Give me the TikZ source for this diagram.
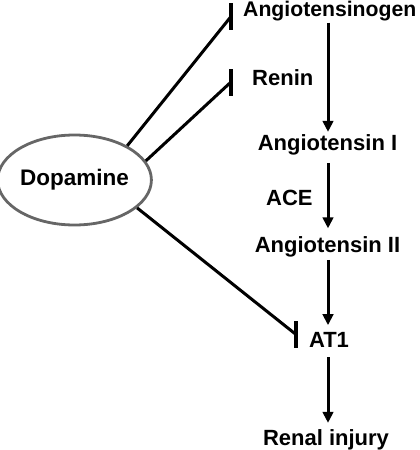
\documentclass[tikz,border=0pt]{standalone}
\usepackage{fontspec}
\setmainfont{Liberation Sans}
\usetikzlibrary{arrows.meta,shapes.geometric}
\begin{document}
\begin{tikzpicture}[x=1pt,y=-1pt,
  lbl/.style={font=\fontsize{22}{26}\selectfont\bfseries, inner sep=0pt},
  arr/.style={line width=3pt, -{Triangle[length=11pt,width=10.5pt]}},
  inh/.style={line width=3pt},
  barnode/.style={fill=black, inner sep=0pt, minimum width=3.2pt, minimum height=27pt},
  dopstyle/.style={ellipse, draw=black!60, line width=2.8pt, minimum width=145pt, minimum height=90pt, inner sep=0pt, font=\fontsize{22.5}{26}\selectfont\bfseries}]
\useasboundingbox (0,0) rectangle (420,450);
% nodes
\node[dopstyle] (dop) at (74.5,180) {Dopamine};
\node[lbl, anchor=base west, font=\fontsize{21.2}{25}\selectfont\bfseries] (agt) at (243,16.5) {Angiotensinogen};
\node[lbl, anchor=base west] (ren) at (252,85) {Renin};
\node[lbl, anchor=base] (ang1) at (327.5,150) {Angiotensin I};
\node[lbl, anchor=base west] (ace) at (266,205) {ACE};
\node[lbl, anchor=base] (ang2) at (327.5,252) {Angiotensin II};
\node[lbl, anchor=base] (at1) at (329,347) {AT1};
\node[lbl, anchor=base] (ri) at (326,445) {Renal injury};
% inhibition bars
\node[barnode] (b1) at (231,16.5) {};
\node[barnode] (b2) at (231,82) {};
\node[barnode] (b3) at (296,334.5) {};
% arrows
\draw[arr, shorten <=1.5pt, shorten >=2pt] (agt.south -| 328,0) -- (ang1.north -| 328,0);
\draw[arr, shorten <=8pt, shorten >=7.5pt] (ang1.south -| 328,0) -- (ang2.north -| 328,0);
\draw[arr, shorten <=3pt, shorten >=6.5pt] (ang2.south -| 328,0) -- (at1.north -| 328,0);
\draw[arr, shorten <=10pt, shorten >=6pt] (at1.south -| 328,0) -- (ri.north -| 328,0);
% inhibition lines
\draw[inh] (dop.33) -- (b1.center);
\draw[inh] (dop.15) -- (b2.center);
\draw[inh] (dop.-24) -- (b3.center);
\end{tikzpicture}
\end{document}
